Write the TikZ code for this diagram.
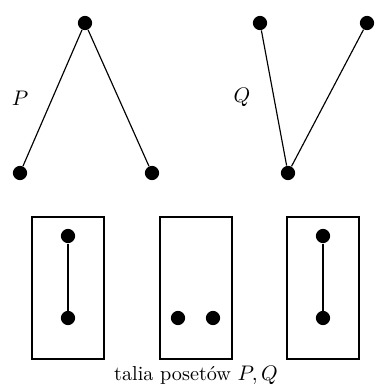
\documentclass[tikz,border=0pt]{standalone}
\usetikzlibrary{positioning}

\begin{document}
\begin{tikzpicture}[
    x=0.52pt, y=-0.52pt,
    font=\fontsize{10.5}{12}\selectfont,
    dot/.style={circle, fill=black, inner sep=0pt, minimum size=7.4pt},
    edge/.style={line width=0.6pt},
    card/.style={draw, line width=0.6pt, minimum width=37.4pt, minimum height=73.8pt, inner sep=0pt}
  ]
    \useasboundingbox (0,0) rectangle (376,386);
    % poset P
    \node[dot] (p1) at (85,23)  {};
    \node[dot] (p2) at (20,173) {};
    \node[dot] (p3) at (152,173) {};
    \draw[edge] (p1) -- (p2);
    \draw[edge] (p1) -- (p3);
    \node (lp) at (20,98) {$P$};
    % poset Q
    \node[dot] (q1) at (260,23)  {};
    \node[dot] (q2) at (367,23)  {};
    \node[dot] (q3) at (288,173) {};
    \draw[edge] (q1) -- (q3);
    \draw[edge] (q2) -- (q3);
    \node (lq) at (242,97) {$Q$};
    % deck
    \node[card] (c1) at (68,288)  {};
    \node[card] (c2) at (196,288) {};
    \node[card] (c3) at (323,288) {};
    \node[dot] (a1) at (68,236) {};
    \node[dot] (a2) at (68,318) {};
    \draw[edge] (a1) -- (a2);
    \node[dot] (b1) at (178,318) {};
    \node[dot] (b2) at (213,318) {};
    \node[dot] (d1) at (323,236) {};
    \node[dot] (d2) at (323,318) {};
    \draw[edge] (d1) -- (d2);
    \node[anchor=base, inner sep=0pt] (cap) at (196,380) {talia posetów $P,Q$};
  \end{tikzpicture}
\end{document}
